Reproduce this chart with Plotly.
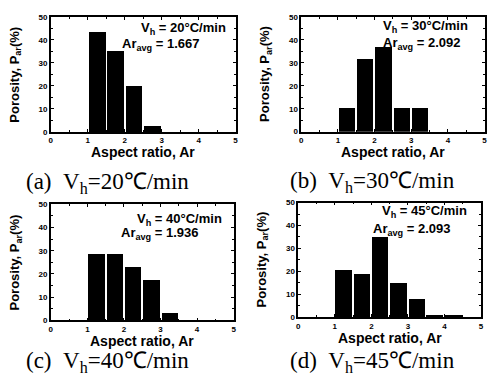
import plotly.graph_objects as go

# ---- data ----
bin_centers = [1.25, 1.75, 2.25, 2.75, 3.25, 3.75, 4.25]
porosity_a = [43.5, 35.0, 20.0, 2.5]
porosity_b = [10.5, 31.5, 37.0, 10.5, 10.5]
porosity_c = [28.7, 28.7, 23.1, 17.4, 3.3]
porosity_d = [21.0, 19.0, 35.0, 15.0, 8.0, 1.2, 1.2]
rates = ["20", "30", "40", "45"]
ar_avg = ["1.667", "2.092", "1.936", "2.093"]
letters = ["(a)", "(b)", "(c)", "(d)"]
x_ticks = [0, 1, 2, 3, 4, 5]
y_ticks = [0, 10, 20, 30, 40, 50]

series = [porosity_a, porosity_b, porosity_c, porosity_d]

W, H = 489, 387
# plot areas in pixels: (x0, x1, ytop, ybottom)
boxes = [(49.3, 236, 13.3, 131), (302.3, 487.5, 13.3, 130.7),
         (49.3, 234, 205, 324), (299.3, 484, 203.3, 320.7)]
# annotation positions in data coords: (line1 x, line1 y, line2 x, line2 y)
ann_pos = [(2.38, 45.0, 1.87, 38.2), (2.18, 46.0, 2.18, 38.4),
           (2.3, 43.6, 1.87, 37.3), (2.23, 46.0, 2.0, 38.3)]
# captions: (left x, y center) px
cap_pos = [(22, 183), (289, 182), (22, 367), (289, 367)]

SANS = "Liberation Sans, Arial, sans-serif"
SERIF = "Liberation Serif, Times New Roman, serif"

fig = go.Figure()
annotations = []
layout = {}
for i, (vals, box) in enumerate(zip(series, boxes)):
    n = i + 1
    sx = "" if n == 1 else str(n)
    x0, x1, yt, yb = box
    fig.add_trace(go.Bar(
        x=bin_centers[:len(vals)], y=vals, width=0.45,
        marker=dict(color="black", line=dict(width=0)),
        xaxis="x" + sx, yaxis="y" + sx, showlegend=False))
    axcommon = dict(showline=True, linecolor="black", linewidth=1.5, mirror="ticks",
                    ticks="inside", ticklen=3, tickwidth=1, tickcolor="black",
                    showgrid=False, zeroline=False,
                    tickfont=dict(family=SANS, size=8, color="black", weight="bold"),
                    fixedrange=True)
    layout["xaxis" + sx] = dict(
        domain=[x0 / W, x1 / W], anchor="y" + sx, range=[0, 5],
        tickvals=x_ticks, ticklabelstandoff=0,
        minor=dict(dtick=0.5, ticks="inside", ticklen=2, tickcolor="black"),
        **axcommon)
    layout["yaxis" + sx] = dict(
        domain=[1 - yb / H, 1 - yt / H], anchor="x" + sx, range=[0, 50],
        tickvals=y_ticks,
        minor=dict(dtick=5, ticks="inside", ticklen=2, tickcolor="black"),
        **axcommon)
    xr = "x" + sx
    yr = "y" + sx
    # axis titles
    annotations.append(dict(text="Aspect ratio, Ar", xref="paper", yref="paper",
                            x=((x0 + x1) / 2) / W, y=1 - (yb + 21) / H,
                            xanchor="center", yanchor="middle", showarrow=False,
                            font=dict(family=SANS, size=14, color="black", weight="bold")))
    annotations.append(dict(text="Porosity, P<sub>ar</sub>(%)", xref="paper", yref="paper",
                            x=(x0 - 36) / W, y=1 - ((yt + yb) / 2) / H, textangle=-90,
                            xanchor="center", yanchor="middle", showarrow=False,
                            font=dict(family=SANS, size=13, color="black", weight="bold")))
    # in-plot text
    p = ann_pos[i]
    annotations.append(dict(text="V<sub>h</sub> = " + rates[i] + "°C/min", xref=xr, yref=yr,
                            x=p[0], y=p[1], xanchor="left", yanchor="middle", showarrow=False,
                            font=dict(family=SANS, size=13, color="black", weight="bold")))
    annotations.append(dict(text="Ar<sub>avg</sub> = " + ar_avg[i], xref=xr, yref=yr,
                            x=p[2], y=p[3], xanchor="left", yanchor="middle", showarrow=False,
                            font=dict(family=SANS, size=13, color="black", weight="bold")))
    # captions
    c = cap_pos[i]
    annotations.append(dict(text=letters[i] + "&nbsp;&nbsp;V<sub>h</sub>=" + rates[i] + "℃/min",
                            xref="paper", yref="paper",
                            x=c[0] / W, y=1 - c[1] / H, xanchor="left", yanchor="middle",
                            showarrow=False,
                            font=dict(family=SERIF, size=23, color="black")))

fig.update_layout(width=W, height=H, margin=dict(l=0, r=0, t=0, b=0),
                  paper_bgcolor="white", plot_bgcolor="white",
                  annotations=annotations, bargap=0, **layout)
fig.write_html("out.html", config={"displayModeBar": False})
